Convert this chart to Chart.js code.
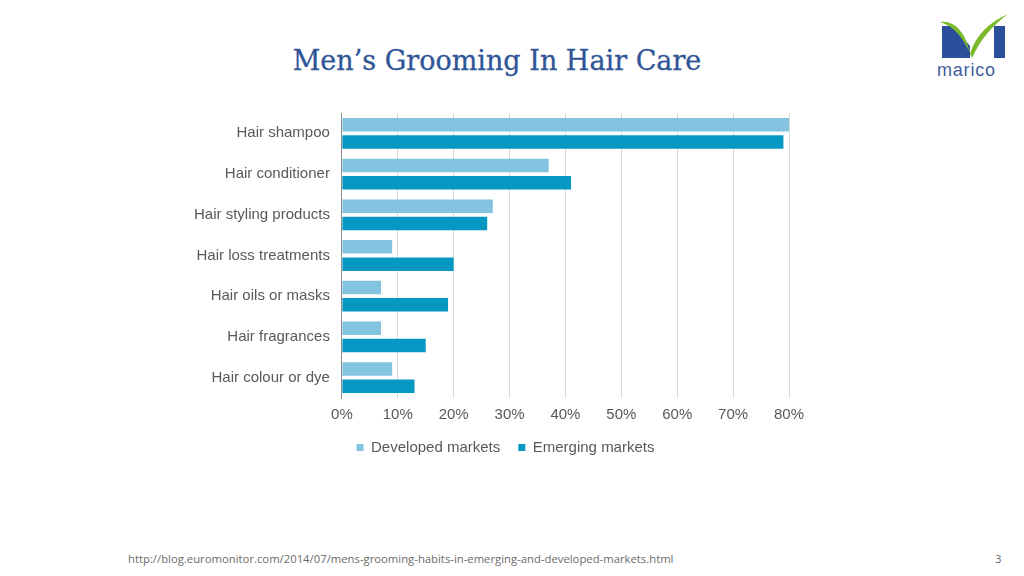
<!DOCTYPE html>
<html>
<head>
<meta charset="utf-8">
<script src="https://cdn.jsdelivr.net/npm/chart.js@4.4.0/dist/chart.umd.min.js"></script>
<style>
    html, body { margin: 0; padding: 0; background: #ffffff; }
    body { width: 1024px; height: 576px; position: relative; overflow: hidden; }
    h1 {
        position: absolute; left: 0; width: 994px; top: 45px; margin: 0;
        text-align: center; font-family: "DejaVu Serif", serif; font-weight: normal;
        font-size: 27px; line-height: 32px; color: #2f5597; -webkit-text-stroke: 0.3px #2f5597;
    }
    #chartBox { position: absolute; left: 180px; top: 92px; width: 650px; height: 373px; }
    .logo { position: absolute; left: 932px; top: 12px; width: 80px; height: 70px; }
    .logo span {
        position: absolute; left: 5px; top: 48px; font-family: "Liberation Sans", sans-serif;
        font-size: 18px; color: #3f5f9e; letter-spacing: 0.8px;
    }
    .source {
        position: absolute; left: 128px; top: 551px; font-family: "Open Sans", sans-serif;
        font-size: 11.3px; color: #6b6b6b;
    }
    .page { position: absolute; left: 995px; top: 551px; font-family: "Open Sans", sans-serif; font-size: 11.3px; color: #6b6b6b; }
</style>
</head>
<body>
<h1>Men’s Grooming In Hair Care</h1>
<div class="logo">
    <svg width="80" height="50" viewBox="0 0 80 50">
        <path d="M10 14 L21 14 L38 34 L38 46 L10 46 Z" fill="#2b4f9b"/>
        <path d="M62 14 L73 14 L73 46 L62 46 Z" fill="#2b4f9b"/>
        <path d="M8 10 C22 8 34 20 38 42 C44 22 58 10 76 2 C60 14 48 28 40 46 C32 26 22 14 8 10 Z" fill="#7ab929"/>
    </svg>
    <span>marico</span>
</div>
<div id="chartBox"><canvas id="groomingChart"></canvas></div>
<div class="source">http://blog.euromonitor.com/2014/07/mens-grooming-habits-in-emerging-and-developed-markets.html</div>
<div class="page">3</div>

<script>
// Kategorie a hodnoty (v %)
const categories = ['Hair shampoo', 'Hair conditioner', 'Hair styling products', 'Hair loss treatments',
                    'Hair oils or masks', 'Hair fragrances', 'Hair colour or dye'];
const developedMarkets = [80, 37, 27, 9, 7, 7, 9];
const emergingMarkets = [79, 41, 26, 20, 19, 15, 13];
const seriesNames = ['Developed markets', 'Emerging markets'];

// Posun legendy doprava (v originále je vycentrovaná na celý blok)
const legendShift = {
    id: 'legendShift',
    afterLayout: function(chart) {
        chart.legend.left += 20;
        chart.legend.right += 20;
    }
};

document.addEventListener('DOMContentLoaded', function() {
    const ctx = document.getElementById('groomingChart').getContext('2d');
    const labelFont = { family: '"Liberation Sans", Arial, sans-serif', size: 15 };

    new Chart(ctx, {
        type: 'bar',
        data: {
            labels: categories,
            datasets: [
                {
                    label: seriesNames[0],
                    data: developedMarkets,
                    backgroundColor: '#82c4e0'
                },
                {
                    label: seriesNames[1],
                    data: emergingMarkets,
                    backgroundColor: '#0698c3'
                }
            ]
        },
        options: {
            indexAxis: 'y',
            responsive: true,
            maintainAspectRatio: false,
            animation: false,
            categoryPercentage: 0.85,
            barPercentage: 0.78,
            layout: { padding: { top: 0, right: 41, left: 2, bottom: 0 } },
            scales: {
                x: {
                    min: 0,
                    max: 80,
                    ticks: {
                        stepSize: 10,
                        color: '#595959',
                        font: labelFont,
                        padding: 8,
                        callback: function(value) { return value + '%'; }
                    },
                    grid: { color: '#d9d9d9', drawTicks: false },
                    border: { display: false },
                    // legenda blíž k ose
                    afterFit: function(scale) { scale.height -= 10; }
                },
                y: {
                    ticks: { color: '#595959', font: labelFont, padding: 12 },
                    grid: { display: false, drawTicks: false },
                    border: { color: '#8c8c8c' }
                }
            },
            plugins: {
                legend: {
                    position: 'bottom',
                    labels: {
                        color: '#595959',
                        font: labelFont,
                        usePointStyle: true,
                        pointStyle: 'rect',
                        boxWidth: 7,
                        boxHeight: 7,
                        padding: 18
                    }
                },
                tooltip: { enabled: false }
            }
        },
        plugins: [legendShift]
    });
});
</script>
</body>
</html>
